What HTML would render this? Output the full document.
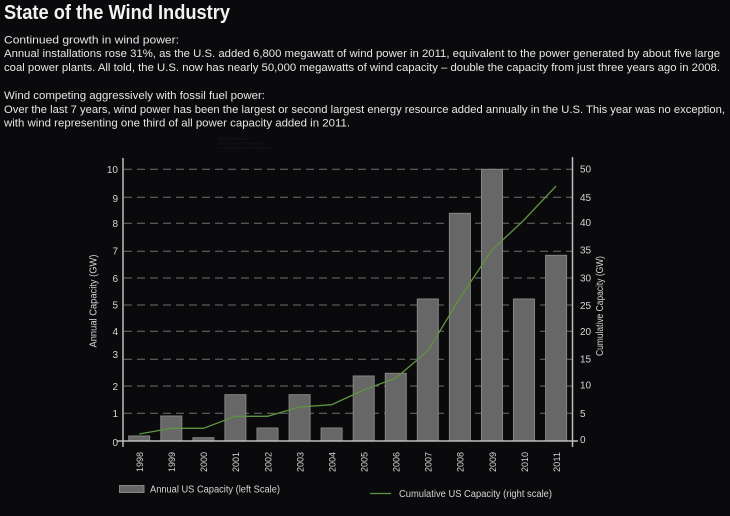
<!DOCTYPE html>
<html>
<head>
<meta charset="utf-8">
<style>
html,body{margin:0;padding:0;background:#0a0a0c;}
svg{display:block;}
text{font-family:"Liberation Sans",sans-serif;}
</style>
</head>
<body>
<svg width="730" height="516" viewBox="0 0 730 516" xmlns="http://www.w3.org/2000/svg">
<rect x="0" y="0" width="730" height="516" fill="#0a0a0c"/>

<!-- Header -->
<text x="4" y="19" font-size="20" font-weight="bold" fill="#f2f2f2" textLength="226" lengthAdjust="spacingAndGlyphs">State of the Wind Industry</text>
<g font-size="11" fill="#e6e6e6">
<text x="4" y="43.3" textLength="175" lengthAdjust="spacingAndGlyphs">Continued growth in wind power:</text>
<text x="4" y="57.2" textLength="716" lengthAdjust="spacingAndGlyphs">Annual installations rose 31%, as the U.S. added 6,800 megawatt of wind power in 2011, equivalent to the power generated by about five large</text>
<text x="4" y="71.1" textLength="716" lengthAdjust="spacingAndGlyphs">coal power plants.  All told, the U.S. now has nearly 50,000 megawatts of wind capacity – double the capacity from just three years ago in 2008.</text>
<text x="4" y="98.9" textLength="261" lengthAdjust="spacingAndGlyphs">Wind competing aggressively with fossil fuel power:</text>
<text x="4" y="112.8" textLength="721" lengthAdjust="spacingAndGlyphs">Over the last 7 years, wind power has been the largest or second largest energy resource added annually in the U.S.  This year was no exception,</text>
<text x="4" y="126.7" textLength="346" lengthAdjust="spacingAndGlyphs">with wind representing one third of all power capacity added in 2011.</text>
</g>

<!-- faint tiny text -->
<g font-size="3.5" fill="#1c1c1e">
<text x="218" y="140">Source: AWEA data</text>
<text x="218" y="144.5">Data: Renewable Fuels Board</text>
<text x="218" y="149">Congressional Power Studies Line</text>
</g>

<!-- Gridlines -->
<g stroke="#6e6e6e" stroke-width="1" stroke-dasharray="8,5">
<line x1="124" y1="169.3" x2="572" y2="169.3"/>
<line x1="124" y1="197.3" x2="572" y2="197.3"/>
<line x1="124" y1="223.3" x2="572" y2="223.3"/>
<line x1="124" y1="251.3" x2="572" y2="251.3"/>
<line x1="124" y1="278" x2="572" y2="278"/>
<line x1="124" y1="305" x2="572" y2="305"/>
<line x1="124" y1="331.3" x2="572" y2="331.3"/>
<line x1="124" y1="359.3" x2="572" y2="359.3"/>
<line x1="124" y1="386" x2="572" y2="386"/>
<line x1="124" y1="413.3" x2="572" y2="413.3"/>
</g>

<!-- Bars -->
<g fill="#676767" stroke="#858585" stroke-width="1">
<rect x="128.7" y="436" width="21" height="5"/>
<rect x="160.8" y="416" width="21" height="25"/>
<rect x="192.9" y="437.7" width="21" height="3.3"/>
<rect x="224.9" y="394.7" width="21" height="46.3"/>
<rect x="257.0" y="428" width="21" height="13"/>
<rect x="289.1" y="394.7" width="21" height="46.3"/>
<rect x="321.1" y="428" width="21" height="13"/>
<rect x="353.2" y="376" width="21" height="65"/>
<rect x="385.3" y="373.3" width="21" height="67.7"/>
<rect x="417.3" y="299" width="21" height="142"/>
<rect x="449.4" y="213.3" width="21" height="227.7"/>
<rect x="481.5" y="169.3" width="21" height="271.7"/>
<rect x="513.5" y="299" width="21" height="142"/>
<rect x="545.6" y="255.3" width="21" height="185.7"/>
</g>

<!-- Cumulative line -->
<polyline fill="none" stroke="#5f9440" stroke-width="1.3" points="139.2,434 171.3,428.3 203.4,428.3 235.4,416.3 267.5,416.3 299.6,407 331.6,404.7 363.7,390 395.8,378 427.8,351 459.9,298 492,250 524,220 556.1,186"/>

<!-- Axes -->
<g stroke="#bdbdbd" stroke-width="1.5">
<line x1="123" y1="158" x2="123" y2="447"/>
<line x1="572.5" y1="157" x2="572.5" y2="447"/>
<line x1="117" y1="441" x2="578" y2="441"/>
</g>

<!-- Left tick labels -->
<g font-size="10" fill="#d4d4d4" text-anchor="end">
<text x="118" y="172.8">10</text>
<text x="118" y="201.8">9</text>
<text x="118" y="226.8">8</text>
<text x="118" y="254.5">7</text>
<text x="118" y="281.8">6</text>
<text x="118" y="308.5">5</text>
<text x="118" y="335.2">4</text>
<text x="118" y="357.8">3</text>
<text x="118" y="390.2">2</text>
<text x="118" y="416.8">1</text>
<text x="118" y="445.8">0</text>
</g>

<!-- Right tick labels -->
<g font-size="10" fill="#d4d4d4" text-anchor="start">
<text x="580" y="172.5">50</text>
<text x="580" y="201.2">45</text>
<text x="580" y="225.8">40</text>
<text x="580" y="253.5">35</text>
<text x="580" y="281.5">30</text>
<text x="580" y="309.2">25</text>
<text x="580" y="335.2">20</text>
<text x="580" y="362.5">15</text>
<text x="580" y="388.5">10</text>
<text x="580" y="416.8">5</text>
<text x="580" y="442.8">0</text>
</g>

<!-- Axis titles -->
<text transform="translate(96.5,301) rotate(-90)" font-size="10" fill="#d4d4d4" text-anchor="middle" textLength="93" lengthAdjust="spacingAndGlyphs">Annual Capacity (GW)</text>
<text transform="translate(603,306) rotate(-90)" font-size="10" fill="#d4d4d4" text-anchor="middle" textLength="100" lengthAdjust="spacingAndGlyphs">Cumulative Capacity (GW)</text>

<!-- X labels -->
<g font-size="9.5" fill="#d4d4d4" text-anchor="end">
<text transform="translate(143,452) rotate(-90)" textLength="20" lengthAdjust="spacingAndGlyphs">1998</text>
<text transform="translate(175.1,452) rotate(-90)" textLength="20" lengthAdjust="spacingAndGlyphs">1999</text>
<text transform="translate(207.2,452) rotate(-90)" textLength="20" lengthAdjust="spacingAndGlyphs">2000</text>
<text transform="translate(239.2,452) rotate(-90)" textLength="20" lengthAdjust="spacingAndGlyphs">2001</text>
<text transform="translate(271.3,452) rotate(-90)" textLength="20" lengthAdjust="spacingAndGlyphs">2002</text>
<text transform="translate(303.4,452) rotate(-90)" textLength="20" lengthAdjust="spacingAndGlyphs">2003</text>
<text transform="translate(335.4,452) rotate(-90)" textLength="20" lengthAdjust="spacingAndGlyphs">2004</text>
<text transform="translate(367.5,452) rotate(-90)" textLength="20" lengthAdjust="spacingAndGlyphs">2005</text>
<text transform="translate(399.6,452) rotate(-90)" textLength="20" lengthAdjust="spacingAndGlyphs">2006</text>
<text transform="translate(431.6,452) rotate(-90)" textLength="20" lengthAdjust="spacingAndGlyphs">2007</text>
<text transform="translate(463.7,452) rotate(-90)" textLength="20" lengthAdjust="spacingAndGlyphs">2008</text>
<text transform="translate(495.8,452) rotate(-90)" textLength="20" lengthAdjust="spacingAndGlyphs">2009</text>
<text transform="translate(527.8,452) rotate(-90)" textLength="20" lengthAdjust="spacingAndGlyphs">2010</text>
<text transform="translate(559.9,452) rotate(-90)" textLength="20" lengthAdjust="spacingAndGlyphs">2011</text>
</g>

<!-- Legend -->
<rect x="119.5" y="485.5" width="24.5" height="7" fill="#676767" stroke="#858585" stroke-width="1"/>
<text x="150" y="492.5" font-size="10" fill="#d4d4d4" textLength="130" lengthAdjust="spacingAndGlyphs">Annual US Capacity (left Scale)</text>
<line x1="370" y1="493.5" x2="391" y2="493.5" stroke="#5f9440" stroke-width="1.3"/>
<text x="399" y="497" font-size="10" fill="#d4d4d4" textLength="153" lengthAdjust="spacingAndGlyphs">Cumulative US Capacity (right scale)</text>
</svg>
</body>
</html>
